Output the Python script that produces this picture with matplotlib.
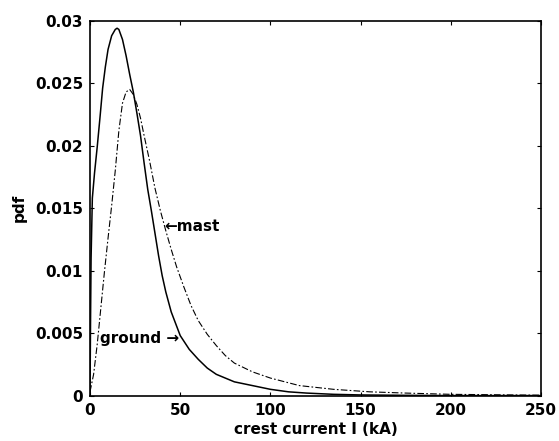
"""
Lightning crest current pdf: strokes to ground vs strokes to mast.
"""

import matplotlib
matplotlib.use("Agg")
import matplotlib.pyplot as plt

# --- data ---
I_GROUND = [0, 0.3, 0.6, 1.3, 2.5, 4, 5.5, 7, 8.5, 10, 12, 14, 15, 16, 18, 20,
            22, 24, 26, 28, 30, 32, 34, 36, 38, 40, 42, 45, 50, 55, 60, 65,
            70, 75, 80, 90, 100, 110, 120, 135, 150, 175, 200, 250]
PDF_GROUND = [0, 0.006, 0.011, 0.0158, 0.0178, 0.0199, 0.0222, 0.0246, 0.0263,
              0.0277, 0.0288, 0.0293, 0.0294, 0.0293, 0.0285, 0.0272, 0.0257,
              0.0243, 0.0226, 0.0208, 0.0186, 0.0165, 0.0148, 0.013, 0.0112,
              0.0096, 0.0083, 0.0067, 0.0048, 0.0037, 0.0029, 0.0022, 0.0017,
              0.0014, 0.0011, 0.0008, 0.0005, 0.0003, 0.0002, 0.0001, 0.00005,
              0.00002, 0.0, 0.0]

I_MAST = [0, 2, 4, 6, 8, 10, 12, 14, 16, 18, 20, 22, 24, 26, 28, 30, 33, 36,
          39, 42, 45, 48, 52, 56, 60, 65, 70, 75, 80, 90, 100, 116, 135, 155,
          175, 200, 250]
PDF_MAST = [0.0003, 0.0017, 0.0041, 0.007, 0.0099, 0.0126, 0.0152, 0.018,
            0.0212, 0.0234, 0.0243, 0.0245, 0.0241, 0.0233, 0.0222, 0.0208,
            0.0188, 0.0166, 0.0148, 0.0132, 0.0117, 0.0103, 0.0087, 0.0072,
            0.006, 0.0049, 0.004, 0.0032, 0.0026, 0.0019, 0.0014, 0.0008,
            0.0005, 0.0003, 0.0002, 0.0001, 0.00003]

X_TICKS = [0, 50, 100, 150, 200, 250]
Y_TICKS = [0, 0.005, 0.01, 0.015, 0.02, 0.025, 0.03]
Y_TICK_LABELS = ["0", "0.005", "0.01", "0.015", "0.02", "0.025", "0.03"]

plt.rcParams["font.family"] = ["DejaVu Sans"]
plt.rcParams["font.size"] = 11
plt.rcParams["font.weight"] = "bold"
plt.rcParams["axes.labelweight"] = "bold"

fig = plt.figure(figsize=(5.59, 4.41), dpi=100)
ax = fig.add_axes([0.161, 0.103, 0.807, 0.850])

ax.plot(I_GROUND, PDF_GROUND, color="black", linewidth=1.1)
ax.plot(I_MAST, PDF_MAST, color="black", linewidth=0.8,
        linestyle=(0, (6, 2, 1.5, 2)))

ax.set_xlim(0, 250)
ax.set_ylim(0, 0.03)
ax.set_xticks(X_TICKS)
ax.set_yticks(Y_TICKS)
ax.set_yticklabels(Y_TICK_LABELS)
ax.tick_params(direction="in", length=3, width=0.8, top=True, right=True,
               labelsize=11, pad=5)
for side in ax.spines.values():
    side.set_linewidth(1.2)

ax.set_xlabel("crest current I (kA)", fontsize=11, labelpad=3)
ax.set_ylabel("pdf", fontsize=11, labelpad=6)

# curve labels
ax.text(41.3, 0.0135, "\u2190mast", fontsize=11, va="center", ha="left")
ax.text(49.5, 0.0046, "ground \u2192", fontsize=11, va="center", ha="right")

fig.savefig("out.png", dpi=100)
